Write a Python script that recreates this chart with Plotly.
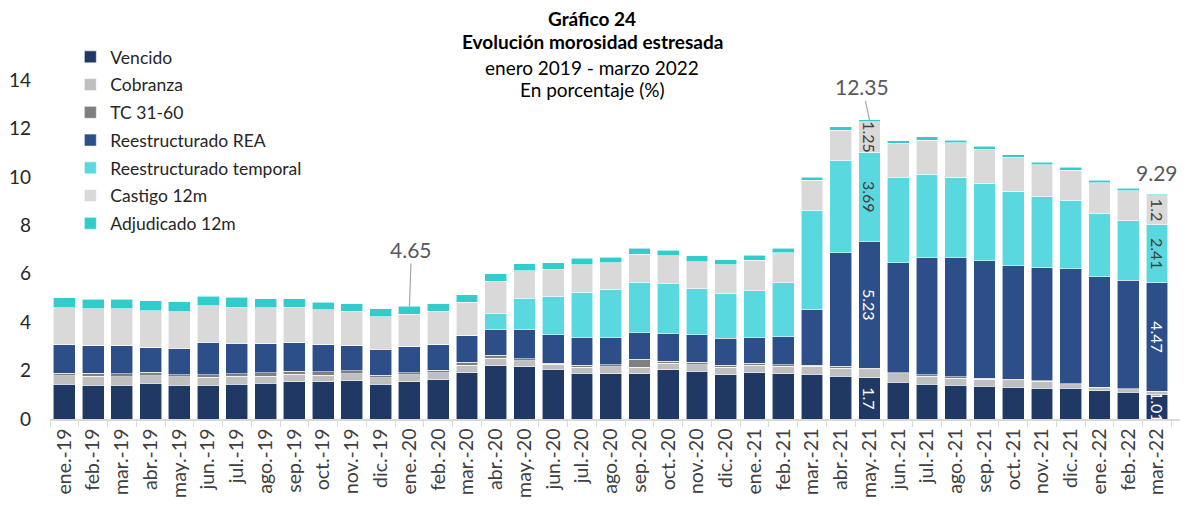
import plotly.graph_objects as go

months = ["ene.", "feb.", "mar.", "abr.", "may.", "jun.", "jul.", "ago.", "sep.", "oct.", "nov.", "dic."]
categories = [f"{m}-{y}" for y in ["19", "20", "21"] for m in months] + ["ene.-22", "feb.-22", "mar.-22"]

vencido = [1.43, 1.40, 1.40, 1.47, 1.39, 1.39, 1.44, 1.47, 1.53, 1.53, 1.57, 1.43,
           1.54, 1.62, 1.91, 2.20, 2.16, 2.06, 1.88, 1.87, 1.87, 2.03, 1.97, 1.83,
           1.91, 1.87, 1.84, 1.76, 1.70, 1.51, 1.43, 1.39, 1.35, 1.31, 1.26, 1.28,
           1.17, 1.10, 1.01]
cobranza = [0.36, 0.37, 0.35, 0.32, 0.36, 0.34, 0.32, 0.30, 0.31, 0.28, 0.29, 0.27,
            0.28, 0.28, 0.32, 0.30, 0.25, 0.21, 0.25, 0.29, 0.27, 0.27, 0.27, 0.31,
            0.30, 0.30, 0.33, 0.34, 0.33, 0.35, 0.33, 0.30, 0.29, 0.28, 0.29, 0.14,
            0.12, 0.11, 0.12]
tc_31_60 = [0.09, 0.11, 0.11, 0.15, 0.08, 0.10, 0.10, 0.13, 0.14, 0.14, 0.14, 0.10,
            0.09, 0.11, 0.12, 0.13, 0.08, 0.04, 0.08, 0.08, 0.33, 0.09, 0.10, 0.09,
            0.09, 0.07, 0.06, 0.07, 0.07, 0.05, 0.07, 0.06, 0.05, 0.05, 0.04, 0.04,
            0.03, 0.03, 0.02]
rea = [1.20, 1.17, 1.18, 1.03, 1.07, 1.32, 1.25, 1.22, 1.20, 1.13, 1.04, 1.06,
       1.09, 1.07, 1.11, 1.07, 1.21, 1.17, 1.14, 1.11, 1.09, 1.13, 1.14, 1.10,
       1.07, 1.16, 2.28, 4.70, 5.23, 4.55, 4.84, 4.90, 4.84, 4.72, 4.65, 4.74,
       4.56, 4.48, 4.47]
temporal = [0, 0, 0, 0, 0, 0, 0, 0, 0, 0, 0, 0,
            0, 0, 0, 0.64, 1.28, 1.58, 1.89, 2.00, 2.08, 2.07, 1.89, 1.85,
            1.92, 2.22, 4.12, 3.82, 3.69, 3.51, 3.43, 3.34, 3.20, 3.05, 2.94, 2.84,
            2.61, 2.47, 2.41]
castigo = [1.52, 1.50, 1.51, 1.51, 1.53, 1.52, 1.51, 1.47, 1.44, 1.43, 1.40, 1.37,
           1.33, 1.37, 1.36, 1.35, 1.15, 1.13, 1.14, 1.10, 1.16, 1.15, 1.13, 1.20,
           1.27, 1.24, 1.24, 1.24, 1.25, 1.41, 1.42, 1.42, 1.40, 1.39, 1.31, 1.24,
           1.27, 1.24, 1.20]
adjudicado = [0.40, 0.40, 0.40, 0.40, 0.41, 0.40, 0.40, 0.37, 0.34, 0.31, 0.33, 0.32,
              0.32, 0.31, 0.32, 0.30, 0.28, 0.26, 0.25, 0.24, 0.25, 0.23, 0.24, 0.19,
              0.20, 0.19, 0.12, 0.14, 0.08, 0.12, 0.14, 0.11, 0.13, 0.11, 0.11, 0.11,
              0.11, 0.11, 0.06]

series_names = ["Vencido", "Cobranza", "TC 31-60", "Reestructurado REA",
                "Reestructurado temporal", "Castigo 12m", "Adjudicado 12m"]
series_values = [vencido, cobranza, tc_31_60, rea, temporal, castigo, adjudicado]
colors = ["#1F3864", "#BFBFBF", "#7F7F7F", "#2C4F8A", "#5AD8DF", "#D9D9D9", "#33CCCC"]
label_colors = ["white", "#404040", "#404040", "white", "#404040", "#404040", "#404040"]
labeled_series = {"Vencido", "Reestructurado REA", "Reestructurado temporal", "Castigo 12m"}
labeled_months = ["may.-21", "mar.-22"]
total_labels = [("ene.-20", 2, -57), ("may.-21", -7, -33)]
plain_total = "mar.-22"
title_lines = ["<b>Gráfico 24</b>", "<b>Evolución morosidad estresada</b>",
               "enero 2019 - marzo 2022", "En porcentaje (%)"]

FONT = "Lato"

# Figure geometry (page body adds an 8px offset)
W, H = 1180, 498
ML, MR, MT, MB = 42, 8, 72, 87
PW, PH = W - ML - MR, H - MT - MB

fig = go.Figure()
for i, (name, vals, col) in enumerate(zip(series_names, series_values, colors)):
    texts = [f"{v:g}" if (name in labeled_series and cat in labeled_months) else ""
             for cat, v in zip(categories, vals)]
    fig.add_trace(go.Bar(
        x=categories, y=vals, name=name, marker_color=col,
        marker_line=dict(color="rgba(255,255,255,0.7)", width=0.8),
        text=texts, textposition="inside", textangle=90,
        insidetextanchor="middle", constraintext="none",
        insidetextfont=dict(family=FONT, size=16, color=label_colors[i]),
        legendgroup=name, cliponaxis=True, hoverinfo="x+y+name",
    ))

totals = [round(sum(s[j] for s in series_values), 2) for j in range(len(categories))]

annotations = []
for cat, axo, ayo in total_labels:
    j = categories.index(cat)
    annotations.append(dict(
        x=cat, y=totals[j], xref="x", yref="y", text=f"{totals[j]:.2f}",
        showarrow=True, arrowhead=0, arrowwidth=1.2, arrowcolor="#A6A6A6",
        ax=axo, ay=ayo, standoff=0,
        font=dict(family=FONT, size=21, color="#595959"),
    ))
j = categories.index(plain_total)
annotations.append(dict(
    x=plain_total, y=totals[j], xref="x", yref="y", text=f"{totals[j]:.2f}",
    showarrow=False, yshift=22, font=dict(family=FONT, size=21, color="#595959"),
))

title_y_px = [10, 34, 59, 82]
for txt, ypx in zip(title_lines, title_y_px):
    annotations.append(dict(
        x=(584 - ML) / PW, y=1 + (MT - ypx) / PH, xref="paper", yref="paper",
        xanchor="center", yanchor="middle", text=txt, showarrow=False,
        font=dict(family=FONT, size=19, color="black"), borderpad=0,
    ))

fig.update_layout(
    width=W, height=H,
    margin=dict(l=ML, r=MR, t=MT, b=MB, autoexpand=False),
    barmode="stack", bargap=0.24,
    plot_bgcolor="white", paper_bgcolor="white",
    font=dict(family=FONT, color="#404040"),
    showlegend=True,
    legend=dict(
        x=0.018, y=1.121, xanchor="left", yanchor="top",
        traceorder="grouped", tracegroupgap=2,
        font=dict(family=FONT, size=17.5, color="#262626"),
        bgcolor="rgba(0,0,0,0)",
    ),
    xaxis=dict(
        type="category", tickangle=-90, showgrid=False,
        showline=True, linecolor="#D9D9D9", linewidth=1.5,
        ticks="outside", tickson="boundaries", tickcolor="#D9D9D9", ticklen=6,
        tickfont=dict(family=FONT, size=19.5, color="#404040"),
    ),
    yaxis=dict(
        range=[0, 14], dtick=2, showgrid=False, zeroline=False, showline=False,
        tickfont=dict(family=FONT, size=19, color="#262626"),
        ticklabelstandoff=18,
    ),
    annotations=annotations,
)

fig.write_html("out.html")
